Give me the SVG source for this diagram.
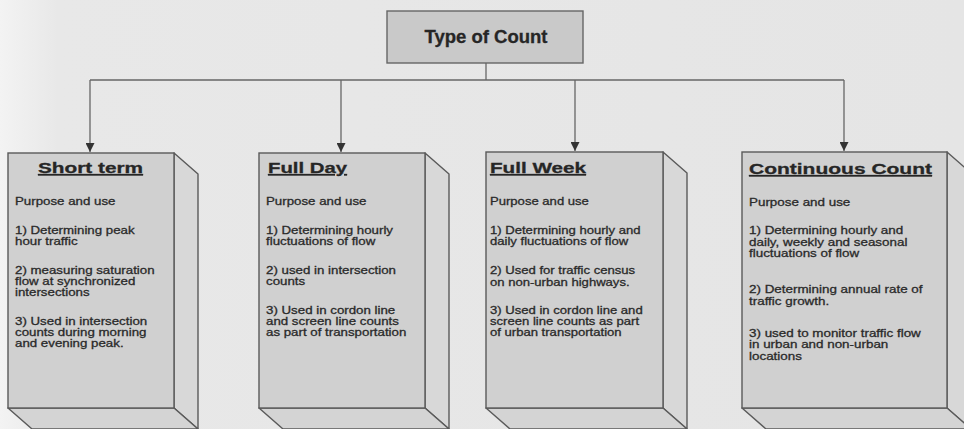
<svg xmlns="http://www.w3.org/2000/svg" width="964" height="429" viewBox="0 0 964 429">
  <defs>
    <linearGradient id="paper" x1="0" y1="0" x2="1" y2="0">
      <stop offset="0" stop-color="#f3f3f3"/>
      <stop offset="0.06" stop-color="#e8e8e8"/>
      <stop offset="1" stop-color="#e5e5e5"/>
    </linearGradient>
    <marker id="arrow" viewBox="0 0 10 10" refX="10" refY="5" markerWidth="9" markerHeight="9" markerUnits="userSpaceOnUse" orient="auto">
      <path d="M0,0 L10,5 L0,10 Z" fill="#333333"/>
    </marker>
  </defs>
  <style>
    .front { fill: #d0d0d0; stroke: #5a5a5a; stroke-width: 1.4; }
    .side { fill: #d8d8d8; stroke: #5a5a5a; stroke-width: 1.4; stroke-linejoin: round; }
    .bottom { fill: #d4d4d4; stroke: #5a5a5a; stroke-width: 1.4; stroke-linejoin: round; }
    .root { fill: #c9c9c9; stroke: #666666; stroke-width: 1.4; }
    .link { fill: none; stroke: #666666; stroke-width: 1.3; }
    .head { font-family: "Liberation Sans", Arial, sans-serif; font-weight: bold; font-size: 15.5px; fill: #262626; stroke: #262626; stroke-width: 0.3; text-decoration: underline; }
    .body { font-family: "Liberation Sans", Arial, sans-serif; font-size: 11px; fill: #2a2a2a; stroke: #2a2a2a; stroke-width: 0.3; }
    .rootlabel { font-family: "Liberation Sans", Arial, sans-serif; font-weight: bold; font-size: 18.5px; fill: #262626; stroke: #262626; stroke-width: 0.3; }
  </style>

  <rect width="964" height="429" fill="url(#paper)"/>

  <!-- connectors -->
  <g id="connectors">
    <path class="link" d="M486,63 V80"/>
    <path class="link" d="M90,80 H844"/>
    <path class="link" d="M90,80 V152" marker-end="url(#arrow)"/>
    <path class="link" d="M341,80 V152" marker-end="url(#arrow)"/>
    <path class="link" d="M575,80 V151" marker-end="url(#arrow)"/>
    <path class="link" d="M844,80 V151" marker-end="url(#arrow)"/>
  </g>

  <!-- root node -->
  <g id="type-of-count">
    <rect class="root" x="387" y="11" width="196" height="52"/>
    <text class="rootlabel" x="486" y="43" text-anchor="middle">Type of Count</text>
  </g>

  <!-- Short term -->
  <g id="short-term">
    <polygon class="side" points="174,153 198,174 198,429 174,408"/>
    <polygon class="bottom" points="8,408 174,408 198,429 32,429"/>
    <rect class="front" x="8" y="153" width="166" height="255"/>
    <text class="head" x="38" y="173" textLength="105" lengthAdjust="spacingAndGlyphs">Short term</text>
    <g transform="translate(15,0) scale(1.21,1)">
      <text class="body" x="0" y="205.5">Purpose and use</text>
      <text class="body" x="0" y="234.5">1) Determining peak</text>
      <text class="body" x="0" y="245.5">hour traffic</text>
      <text class="body" x="0" y="274.5">2) measuring saturation</text>
      <text class="body" x="0" y="285.5">flow at synchronized</text>
      <text class="body" x="0" y="296.5">intersections</text>
      <text class="body" x="0" y="325.5">3) Used in intersection</text>
      <text class="body" x="0" y="336.5">counts during morning</text>
      <text class="body" x="0" y="347.5">and evening peak.</text>
    </g>
  </g>

  <!-- Full Day -->
  <g id="full-day">
    <polygon class="side" points="425,153 449,174 449,429 425,408"/>
    <polygon class="bottom" points="259,408 425,408 449,429 283,429"/>
    <rect class="front" x="259" y="153" width="166" height="255"/>
    <text class="head" x="268" y="173" textLength="79" lengthAdjust="spacingAndGlyphs">Full Day</text>
    <g transform="translate(266,0) scale(1.21,1)">
      <text class="body" x="0" y="205.5">Purpose and use</text>
      <text class="body" x="0" y="234.5">1) Determining hourly</text>
      <text class="body" x="0" y="245.5">fluctuations of flow</text>
      <text class="body" x="0" y="274.5">2) used in intersection</text>
      <text class="body" x="0" y="285.5">counts</text>
      <text class="body" x="0" y="314.5">3) Used in cordon line</text>
      <text class="body" x="0" y="325.5">and screen line counts</text>
      <text class="body" x="0" y="336.5">as part of transportation</text>
    </g>
  </g>

  <!-- Full Week -->
  <g id="full-week">
    <polygon class="side" points="663,152 687,173 687,429 663,408"/>
    <polygon class="bottom" points="486,408 663,408 687,429 510,429"/>
    <rect class="front" x="486" y="152" width="177" height="256"/>
    <text class="head" x="490" y="173" textLength="96" lengthAdjust="spacingAndGlyphs">Full Week</text>
    <g transform="translate(490,0) scale(1.19,1)">
      <text class="body" x="0" y="205.5">Purpose and use</text>
      <text class="body" x="0" y="234.5">1) Determining hourly and</text>
      <text class="body" x="0" y="245.5">daily fluctuations of flow</text>
      <text class="body" x="0" y="274.5">2) Used for traffic census</text>
      <text class="body" x="0" y="285.5">on non-urban highways.</text>
      <text class="body" x="0" y="314.5">3) Used in cordon line and</text>
      <text class="body" x="0" y="325.5">screen line counts as part</text>
      <text class="body" x="0" y="336.5">of urban transportation</text>
    </g>
  </g>

  <!-- Continuous Count -->
  <g id="continuous-count">
    <polygon class="side" points="947,152 971,173 971,429 947,408"/>
    <polygon class="bottom" points="742,408 947,408 971,429 766,429"/>
    <rect class="front" x="742" y="152" width="205" height="256"/>
    <text class="head" x="749" y="174" textLength="183" lengthAdjust="spacingAndGlyphs">Continuous Count</text>
    <g transform="translate(749,0) scale(1.22,1)">
      <text class="body" x="0" y="206">Purpose and use</text>
      <text class="body" x="0" y="234.5">1) Determining hourly and</text>
      <text class="body" x="0" y="246">daily, weekly and seasonal</text>
      <text class="body" x="0" y="257.5">fluctuations of flow</text>
      <text class="body" x="0" y="293.5">2) Determining annual rate of</text>
      <text class="body" x="0" y="305">traffic growth.</text>
      <text class="body" x="0" y="337">3) used to monitor traffic flow</text>
      <text class="body" x="0" y="348.5">in urban and non-urban</text>
      <text class="body" x="0" y="360">locations</text>
    </g>
  </g>
</svg>
